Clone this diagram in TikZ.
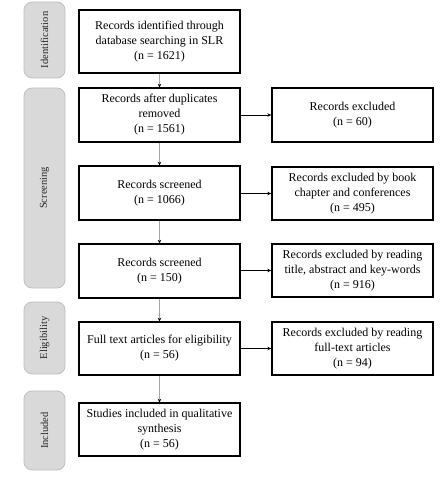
\documentclass[tikz,border=0pt]{standalone}
\usepackage{fontspec}
\setmainfont{Liberation Serif}
\usetikzlibrary{arrows.meta}
\definecolor{sidefill}{HTML}{D9D9D9}
\definecolor{sideline}{HTML}{BFBFBF}
\definecolor{vline}{HTML}{A6A6A6}
\begin{document}
\begin{tikzpicture}[x=1pt,y=-1pt,
  mainbox/.style={draw=black, line width=1.3pt, fill=white, align=center,
    font=\fontsize{12}{15}\selectfont, inner sep=2pt, minimum width=161pt},
  sidebox/.style={draw=sideline, line width=0.8pt, fill=sidefill, rounded corners=8pt,
    minimum width=41pt},
  sidelabel/.style={rotate=90, font=\fontsize{10.5}{12}\selectfont, text=black!85},
  varrow/.style={draw=vline, line width=1.2pt, -{Stealth[color=black, length=3.5pt, width=3.5pt]}},
  harrow/.style={draw=black, line width=0.6pt, -{Stealth[length=4pt, width=3.5pt]}}
]
\useasboundingbox (0,0) rectangle (447,484);
% side boxes
\node[sidebox, minimum height=76pt] (s1) at (44.5,40) {};
\node[sidelabel] (t1) at (s1.center) {Identification};
\node[sidebox, minimum height=200pt] (s2) at (44.5,188) {};
\node[sidelabel] (t2) at (s2.center) {Screening};
\node[sidebox, minimum height=72pt] (s3) at (44.5,338) {};
\node[sidelabel] (t3) at (s3.center) {Eligibility};
\node[sidebox, minimum height=79pt] (s4) at (44.5,430.5) {};
\node[sidelabel] (t4) at (s4.center) {Included};
% main boxes
\node[mainbox, minimum height=63pt] (b1) at (159.5,41.5) {Records identified through\\database searching in SLR\\(n = 1621)};
\node[mainbox, minimum height=54pt] (b2) at (159.5,115) {Records after duplicates\\removed\\(n = 1561)};
\node[mainbox, minimum height=54pt] (b3) at (159.5,193) {Records screened\\(n = 1066)};
\node[mainbox, minimum height=54pt] (b4) at (159.5,271) {Records screened\\(n = 150)};
\node[mainbox, minimum height=53pt] (b5) at (159.5,348.5) {Full text articles for eligibility\\(n = 56)};
\node[mainbox, minimum height=53pt] (b6) at (159.5,429.5) {Studies included in qualitative\\synthesis\\(n = 56)};
% right boxes
\node[mainbox, minimum height=54pt] (r1) at (352.5,115) {Records excluded\\(n = 60)};
\node[mainbox, minimum height=53pt] (r2) at (352.5,193.5) {Records excluded by book\\chapter and conferences\\(n = 495)};
\node[mainbox, minimum height=53pt] (r3) at (352.5,270.5) {Records excluded by reading\\title, abstract and key-words\\(n = 916)};
\node[mainbox, minimum height=53pt] (r4) at (352.5,348.5) {Records excluded by reading\\full-text articles\\(n = 94)};
% arrows
\draw[varrow] (b1) -- (b2);
\draw[varrow] (b2) -- (b3);
\draw[varrow] (b3) -- (b4);
\draw[varrow] (b4) -- (b5);
\draw[varrow] (b5) -- (b6);
\draw[harrow] (b2) -- (r1);
\draw[harrow] (b3.east |- r2.west) -- (r2.west);
\draw[harrow] (b4.east |- r3.west) -- (r3.west);
\draw[harrow] (b5) -- (r4);
\end{tikzpicture}
\end{document}
